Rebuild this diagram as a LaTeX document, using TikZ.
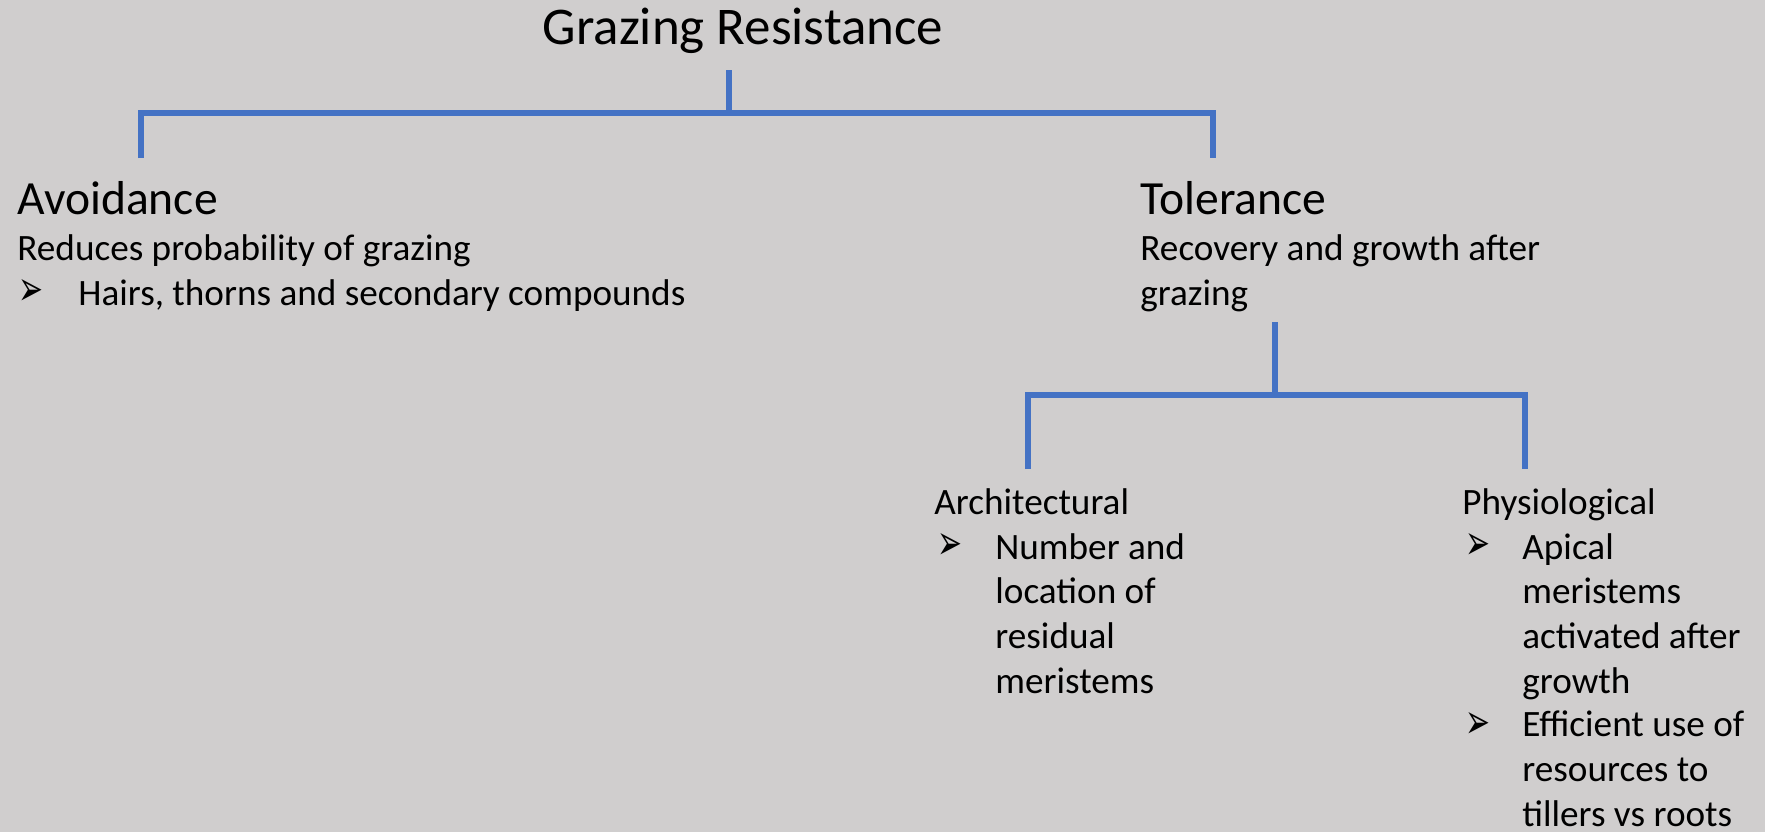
\documentclass[tikz,border=0pt]{standalone}
\usepackage{graphicx}
\usepackage{fontspec}
\setmainfont{Carlito}
\newfontfamily\arrowfont{DejaVu Sans}
\usetikzlibrary{positioning}

\definecolor{bggrey}{HTML}{D0CECE}
\definecolor{linkblue}{HTML}{4472C4}

\newcommand{\titletxt}{\fontsize{26.5}{30}\selectfont}
\newcommand{\headtxt}{\fontsize{23.8}{28}\selectfont}
\newcommand{\bodytxt}{\fontsize{18.6}{22.3}\selectfont}
\newcommand{\pointer}{\resizebox{12.5pt}{13pt}{\arrowfont\char"27A2}}

\begin{document}
\begin{tikzpicture}[x=0.5pt, y=-0.5pt,
        branch/.style={linkblue, line width=2.6pt},
        txt/.style={anchor=base west, inner sep=0pt, align=left, font=\bodytxt},
        head/.style={txt, font=\headtxt}]
        \fill [bggrey] (0,0) rectangle (1765,832);
        \useasboundingbox (0,0) rectangle (1765,832);

        \node [head, anchor=base, font=\titletxt] (title) at (743,44) {Grazing Resistance};

        % first level
        \coordinate (s1) at (729,70);
        \coordinate (j1) at (729,113);
        \coordinate (a1) at (141,158);
        \coordinate (t1) at (1213,158);
        \draw [branch] (s1) -- (j1);
        \draw [branch] (a1) |- (j1) -| (t1);

        \node [head] (avoid) at (17,214) {Avoidance};
        \node [txt] (avoiddesc) at (17,260) {Reduces probability of grazing};
        \node [txt] (pt1) at (18,305) {\pointer};
        \node [txt] (hairs) at (78,305) {Hairs, thorns and secondary compounds};

        \node [head] (tol) at (1140,214) {Tolerance};
        % base of a multi-line node is its last line
        \node [txt] (toldesc) at (1140,305) {Recovery and growth after\\grazing};

        % second level
        \coordinate (s2) at (1275,322);
        \coordinate (j2) at (1275,395);
        \coordinate (a2) at (1028,469);
        \coordinate (p2) at (1525,469);
        \draw [branch] (s2) -- (j2);
        \draw [branch] (a2) |- (j2) -| (p2);

        \node [txt] (arch) at (934,514) {Architectural};
        \node [txt] (pt2) at (937,559) {\pointer};
        \node [txt] (number) at (995,693) {Number and\\location of\\residual\\meristems};

        \node [txt] (phys) at (1462,514) {Physiological};
        \node [txt] (pt3) at (1465,559) {\pointer};
        \node [txt] (apical) at (1522,693) {Apical\\meristems\\activated after\\growth};
        \node [txt] (pt4) at (1465,738) {\pointer};
        \node [txt] (effic) at (1522,826) {Efficient use of\\resources to\\tillers vs roots};
    \end{tikzpicture}
\end{document}
